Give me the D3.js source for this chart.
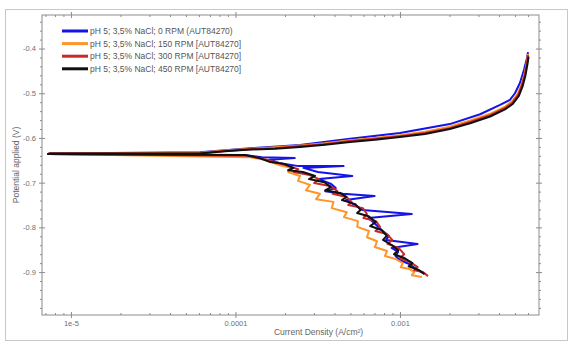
<!DOCTYPE html>
<html>
<head>
<meta charset="utf-8">
<script src="https://cdn.jsdelivr.net/npm/d3@7"></script>
<style>
  body { margin: 0; background: #fff; }
  text { font-family: "Liberation Sans", Arial, sans-serif; }
</style>
</head>
<body>
<svg id="chart" width="573" height="345"></svg>
<script>
// Tafel plot, pH 5 / 3.5% NaCl at four rotation speeds
// points are [current density A/cm², potential V]

const seriesNames = [
  'pH 5; 3,5% NaCl; 0 RPM (AUT84270)',
  'pH 5; 3,5% NaCl; 150 RPM [AUT84270]',
  'pH 5; 3,5% NaCl; 300 RPM [AUT84270]',
  'pH 5; 3,5% NaCl; 450 RPM [AUT84270]'
]
const seriesColors = ['#1414e6', '#ff9428', '#c8282a', '#101010']

const xTickValues = [1e-5, 1e-4, 1e-3]
const xTickLabels = ['1e-5', '0.0001', '0.001']
const yTickValues = [-0.9, -0.8, -0.7, -0.6, -0.5, -0.4]
const yTickLabels = ['-0.9', '-0.8', '-0.7', '-0.6', '-0.5', '-0.4']

// cathodic branches, listed from Ecorr downwards
const cathodic0 = [
  [1.14e-4, -0.638], [1.45e-4, -0.643], [2.29e-4, -0.645], [1.61e-4, -0.649], [1.84e-4, -0.656],
  [2.42e-4, -0.663], [4.54e-4, -0.663], [2.59e-4, -0.667], [3.17e-4, -0.676], [5.13e-4, -0.685],
  [3.22e-4, -0.692], [3.82e-4, -0.703], [4.07e-4, -0.712], [3.51e-4, -0.719], [4.50e-4, -0.725],
  [7.01e-4, -0.730], [4.70e-4, -0.739], [5.34e-4, -0.750], [5.92e-4, -0.761], [1.18e-3, -0.770],
  [6.43e-4, -0.779], [7.10e-4, -0.793], [7.73e-4, -0.806], [8.54e-4, -0.819], [8.24e-4, -0.828],
  [1.28e-3, -0.837], [8.90e-4, -0.846], [9.74e-4, -0.855], [9.40e-4, -0.864], [9.96e-4, -0.873],
  [1.14e-3, -0.882], [1.29e-3, -0.896], [1.38e-3, -0.902]
]
const cathodic150 = [
  [1.23e-4, -0.643], [1.51e-4, -0.649], [1.86e-4, -0.661], [2.21e-4, -0.667], [2.09e-4, -0.676],
  [2.47e-4, -0.685], [2.40e-4, -0.696], [2.84e-4, -0.705], [2.68e-4, -0.717], [3.26e-4, -0.725],
  [3.09e-4, -0.737], [3.94e-4, -0.743], [3.85e-4, -0.757], [4.75e-4, -0.766], [4.57e-4, -0.777],
  [5.55e-4, -0.786], [5.50e-4, -0.799], [6.48e-4, -0.808], [6.30e-4, -0.822], [7.25e-4, -0.831],
  [7.04e-4, -0.844], [8.34e-4, -0.853], [8.11e-4, -0.864], [9.45e-4, -0.871], [1.04e-3, -0.880],
  [1.01e-3, -0.889], [1.14e-3, -0.893], [1.22e-3, -0.900], [1.18e-3, -0.907], [1.36e-3, -0.911]
]
const cathodic300 = [
  [1.19e-4, -0.640], [1.44e-4, -0.646], [1.79e-4, -0.655], [2.11e-4, -0.663], [2.41e-4, -0.670],
  [2.26e-4, -0.676], [2.82e-4, -0.683], [3.22e-4, -0.692], [3.01e-4, -0.701], [3.81e-4, -0.708],
  [4.16e-4, -0.719], [3.90e-4, -0.725], [4.73e-4, -0.732], [5.08e-4, -0.743], [4.85e-4, -0.750],
  [5.95e-4, -0.757], [6.30e-4, -0.770], [6.00e-4, -0.779], [7.15e-4, -0.786], [7.56e-4, -0.799],
  [7.09e-4, -0.808], [8.34e-4, -0.815], [8.98e-4, -0.828], [8.39e-4, -0.837], [9.82e-4, -0.846],
  [1.06e-3, -0.860], [1.00e-3, -0.869], [1.16e-3, -0.878], [1.28e-3, -0.889], [1.22e-3, -0.896],
  [1.38e-3, -0.900], [1.48e-3, -0.909]
]
const cathodic450 = [
  [1.14e-4, -0.638], [1.40e-4, -0.645], [1.63e-4, -0.654], [1.97e-4, -0.658], [2.25e-4, -0.667],
  [2.09e-4, -0.672], [2.57e-4, -0.676], [3.05e-4, -0.685], [2.80e-4, -0.692], [3.47e-4, -0.699],
  [3.80e-4, -0.710], [3.51e-4, -0.717], [4.32e-4, -0.723], [4.73e-4, -0.732], [4.44e-4, -0.739],
  [5.35e-4, -0.748], [5.76e-4, -0.761], [5.49e-4, -0.768], [6.45e-4, -0.775], [7.13e-4, -0.788],
  [6.59e-4, -0.797], [7.73e-4, -0.806], [8.31e-4, -0.819], [7.89e-4, -0.828], [8.96e-4, -0.840],
  [9.77e-4, -0.851], [9.20e-4, -0.860], [1.07e-3, -0.869], [1.19e-3, -0.880], [1.13e-3, -0.887],
  [1.31e-3, -0.896], [1.41e-3, -0.905]
]

// near Ecorr the current collapses towards zero
const ecorrDip = [[7.25e-6, -0.636], [7.4e-6, -0.635]]

// anodic branches, from Ecorr upwards
const anodic0 = [
  [6.08e-5, -0.632], [1.23e-4, -0.623], [2.47e-4, -0.616], [4.97e-4, -0.602], [1.00e-3, -0.589],
  [2.01e-3, -0.569], [3.07e-3, -0.547], [4.06e-3, -0.526], [4.66e-3, -0.515], [5.00e-3, -0.500],
  [5.36e-3, -0.477], [5.67e-3, -0.448], [5.92e-3, -0.421], [6.00e-3, -0.408]
]
const anodic150 = [
  [6.08e-5, -0.633], [8.64e-5, -0.628], [1.23e-4, -0.624], [1.74e-4, -0.621], [2.47e-4, -0.617],
  [3.50e-4, -0.612], [4.97e-4, -0.605], [7.05e-4, -0.600], [1.00e-3, -0.594], [1.42e-3, -0.586],
  [2.01e-3, -0.575], [2.67e-3, -0.561], [3.53e-3, -0.546], [4.35e-3, -0.530], [4.80e-3, -0.518],
  [5.22e-3, -0.500], [5.51e-3, -0.478], [5.75e-3, -0.453], [5.92e-3, -0.428], [6.00e-3, -0.412]
]
const anodic300 = [
  [6.08e-5, -0.634], [8.64e-5, -0.629], [1.23e-4, -0.625], [1.74e-4, -0.623], [2.47e-4, -0.618],
  [3.50e-4, -0.614], [4.97e-4, -0.607], [7.05e-4, -0.602], [1.00e-3, -0.596], [1.42e-3, -0.589],
  [2.01e-3, -0.578], [2.67e-3, -0.564], [3.53e-3, -0.549], [4.35e-3, -0.533], [4.80e-3, -0.522],
  [5.22e-3, -0.504], [5.51e-3, -0.482], [5.75e-3, -0.457], [5.92e-3, -0.432], [6.00e-3, -0.415]
]
const anodic450 = [
  [6.08e-5, -0.635], [8.64e-5, -0.630], [1.23e-4, -0.626], [1.74e-4, -0.624], [2.47e-4, -0.620],
  [3.50e-4, -0.615], [4.97e-4, -0.609], [7.05e-4, -0.604], [1.00e-3, -0.598], [1.42e-3, -0.591],
  [2.01e-3, -0.580], [2.67e-3, -0.567], [3.53e-3, -0.552], [4.35e-3, -0.536], [4.85e-3, -0.524],
  [5.28e-3, -0.506], [5.57e-3, -0.484], [5.80e-3, -0.459], [5.96e-3, -0.434], [6.05e-3, -0.418]
]

const cathodicSets = [cathodic0, cathodic150, cathodic300, cathodic450]
const anodicSets = [anodic0, anodic150, anodic300, anodic450]

const width = 573
const height = 345
const margin = { top: 15, right: 34, bottom: 30, left: 42 }
const innerWidth = width - margin.left - margin.right
const innerHeight = height - margin.top - margin.bottom

const svg = d3.select('#chart')

// outer figure border
svg.append('rect')
  .attr('x', 5.5).attr('y', 9.5)
  .attr('width', 562).attr('height', 331)
  .attr('fill', 'none')
  .attr('stroke', '#c8c8c8')

const g = svg.append('g')
  .attr('transform', `translate(${margin.left},${margin.top})`)

const x = d3.scaleLog()
  .domain([6.67e-6, 7.0e-3])
  .range([0, innerWidth])

const y = d3.scaleLinear()
  .domain([-0.996, -0.325])
  .range([innerHeight, 0])

// minor tick positions
const xMinor = []
for (let e = -6; e <= -3; e++) {
  for (let m = 2; m <= 9; m++) {
    const v = m * Math.pow(10, e)
    if (v > x.domain()[0] && v < x.domain()[1]) xMinor.push(v)
  }
}
const yMinor = d3.range(-0.98, -0.33, 0.02).filter(v => Math.abs(v * 10 - Math.round(v * 10)) > 1e-6)

const axisColor = '#8c8c8c'
const labelColor = '#707070'

function styleAxis(sel) {
  sel.select('.domain').remove()
  sel.selectAll('line').attr('stroke', axisColor)
  sel.selectAll('text')
    .attr('fill', labelColor)
    .style('font-size', '7.5px')
}

// bottom axis (labels + outward ticks)
g.append('g')
  .attr('transform', `translate(0,${innerHeight})`)
  .call(d3.axisBottom(x).tickValues(xTickValues).tickSize(3).tickPadding(3)
    .tickFormat((d, i) => xTickLabels[i]))
  .call(styleAxis)

// inward / minor ticks on all four sides
const tickSets = [
  { axis: d3.axisBottom, scale: x, values: xTickValues, size: -3, at: `translate(0,${innerHeight})` },
  { axis: d3.axisBottom, scale: x, values: xMinor, size: -2, at: `translate(0,${innerHeight})` },
  { axis: d3.axisTop, scale: x, values: xTickValues, size: 3, at: 'translate(0,0)' },
  { axis: d3.axisTop, scale: x, values: xTickValues, size: -3, at: 'translate(0,0)' },
  { axis: d3.axisTop, scale: x, values: xMinor, size: -2, at: 'translate(0,0)' },
  { axis: d3.axisLeft, scale: y, values: yTickValues, size: -3, at: 'translate(0,0)' },
  { axis: d3.axisLeft, scale: y, values: yMinor, size: 2, at: 'translate(0,0)' },
  { axis: d3.axisRight, scale: y, values: yTickValues, size: 3, at: `translate(${innerWidth},0)` },
  { axis: d3.axisRight, scale: y, values: yTickValues, size: -3, at: `translate(${innerWidth},0)` },
  { axis: d3.axisRight, scale: y, values: yMinor, size: 2, at: `translate(${innerWidth},0)` }
]
tickSets.forEach(t => {
  const a = g.append('g')
    .attr('transform', t.at)
    .call(t.axis(t.scale).tickValues(t.values).tickSize(t.size).tickFormat(''))
    .call(styleAxis)
  a.selectAll('text').remove()
})

// left axis with labels
g.append('g')
  .call(d3.axisLeft(y).tickValues(yTickValues).tickSize(3).tickPadding(3)
    .tickFormat((d, i) => yTickLabels[i]))
  .call(styleAxis)

// plot frame
g.append('rect')
  .attr('width', innerWidth)
  .attr('height', innerHeight)
  .attr('fill', 'none')
  .attr('stroke', axisColor)

// axis titles
svg.append('text')
  .attr('x', margin.left + x(3.2e-4))
  .attr('y', 335)
  .attr('text-anchor', 'middle')
  .attr('fill', '#666')
  .style('font-size', '8.5px')
  .text('Current Density (A/cm²)')

svg.append('text')
  .attr('transform', `translate(19,${margin.top + innerHeight / 2}) rotate(-90)`)
  .attr('text-anchor', 'middle')
  .attr('fill', '#666')
  .style('font-size', '8.5px')
  .text('Potential applied (V)')

// curves: cathodic end -> Ecorr -> anodic end
const line = d3.line()
  .x(d => x(d[0]))
  .y(d => y(d[1]))

const curves = cathodicSets.map((c, i) => c.slice().reverse().concat(ecorrDip, anodicSets[i]))

g.append('g')
  .selectAll('path')
  .data(curves)
  .join('path')
  .attr('d', line)
  .attr('fill', 'none')
  .attr('stroke', (_, i) => seriesColors[i])
  .attr('stroke-width', 2)
  .attr('stroke-linejoin', 'round')

// legend
const legend = svg.append('g')
  .selectAll('g')
  .data(seriesNames)
  .join('g')
  .attr('transform', (_, i) => `translate(62,${31 + i * 12.6})`)

legend.append('line')
  .attr('x1', 0).attr('x2', 26)
  .attr('stroke', (_, i) => seriesColors[i])
  .attr('stroke-width', 3)

legend.append('text')
  .attr('x', 28)
  .attr('dy', '0.35em')
  .attr('fill', '#555')
  .style('font-size', '8.5px')
  .text(d => d)
</script>
</body>
</html>
